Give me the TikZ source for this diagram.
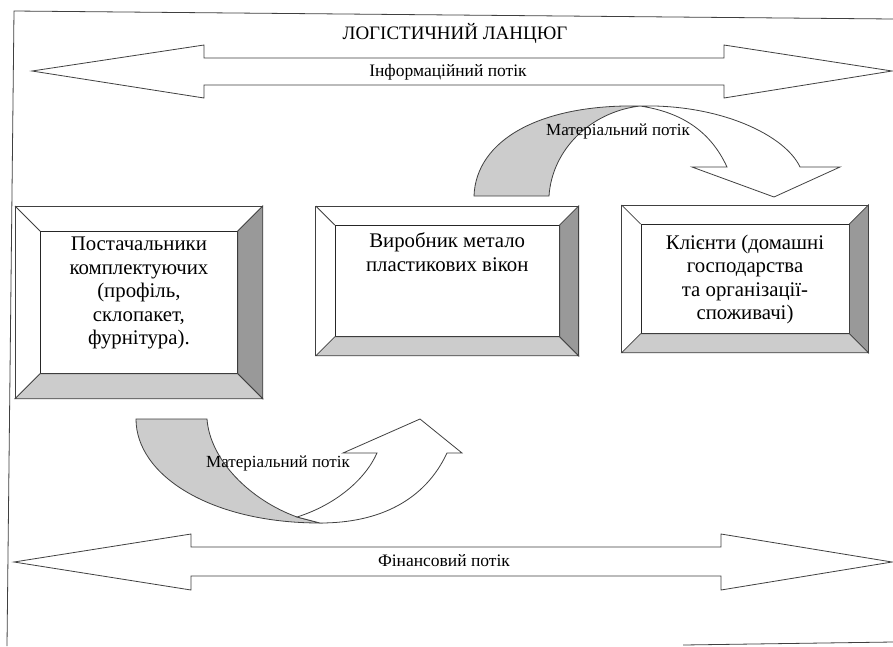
\documentclass[tikz,border=0pt]{standalone}
\usepackage{fontspec}
\setmainfont{Liberation Serif}
\usetikzlibrary{calc,positioning}

\definecolor{sidedark}{gray}{0.6}
\definecolor{sidelight}{gray}{0.8}

% parbox with fixed size, text pushed down from the top
\newcommand{\boxtext}[4]{\parbox[c][#2pt][t]{#1pt}{\centering\vspace*{#3pt}#4}}

% frame round an inner box: node name, depth
\newcommand{\bevel}[2]{%
  \draw[edge] ($(#1.north west)+(-#2,-#2)$) rectangle ($(#1.south east)+(#2,#2)$);
  \draw[edge, fill=sidedark] (#1.north east) -- ($(#1.north east)+(#2,-#2)$)
        -- ($(#1.south east)+(#2,#2)$) -- (#1.south east) -- cycle;
  \draw[edge, fill=sidelight] (#1.south west) -- ($(#1.south west)+(-#2,#2)$)
        -- ($(#1.south east)+(#2,#2)$) -- (#1.south east) -- cycle;
  \draw[edge] (#1.north west) -- ($(#1.north west)+(-#2,-#2)$);
}

\begin{document}
\begin{tikzpicture}[x=1pt, y=-1pt, line join=miter]

    \tikzstyle{edge}  = [draw=black!75, line width=0.8pt]
    \tikzstyle{inbox} = [rectangle, draw=black!85, line width=0.8pt, inner sep=0pt,
                         font=\fontsize{20.8}{23.5}\selectfont]
    \tikzstyle{flow}  = [edge, fill=white]
    \tikzstyle{back}  = [edge, fill=sidelight]
    \tikzstyle{lbl}   = [inner sep=0pt, font=\fontsize{17.5}{20}\selectfont]
    \tikzstyle{mlbl}  = [inner sep=0pt, font=\fontsize{17}{19}\selectfont]

    \fill[white] (0,0) rectangle (893,646);
    \useasboundingbox (0,0) rectangle (893,646);

    \draw[edge] (893,19) -- (14,11) -- (7,646);
    \draw[edge] (683,645) -- (893,642);

    \draw[flow] (32,71) -- (204,45) -- (204,58) -- (724,58) -- (724,45) -- (892,71)
        -- (724,98) -- (724,85) -- (204,85) -- (204,98) -- cycle;
    \draw[flow] (14,562) -- (191,534) -- (191,547) -- (721,547) -- (721,534) -- (892,562)
        -- (721,590) -- (721,576) -- (191,576) -- (191,590) -- cycle;

    \node (supp)   [inbox, anchor=north west] at (40,231)
        {\boxtext{197}{142}{5.5}{Постачальники\\комплектуючих\\(профіль,\\склопакет,\\фурнітура).}};
    \node (maker)  [inbox, right=97pt of supp.north east, anchor=north west, yshift=6pt]
        {\boxtext{224}{111}{7.5}{Виробник метало\\пластикових вікон}};
    \node (client) [inbox, right=81pt of maker.north east, anchor=north west, yshift=1pt]
        {\boxtext{208}{109}{10.5}{Клієнти (домашні\\господарства\\та організації-\\споживачі)}};

    \bevel{supp}{25}
    \bevel{maker}{19}
    \bevel{client}{19}

    \draw[back] (474,196) .. controls (476,140) and (540,104) .. (640,106)
        .. controls (590,112) and (552,150) .. (549,196) -- cycle;
    \draw[flow] (640,106) .. controls (720,104) and (785,135) .. (800,167)
        -- (840,167) -- (774,197) -- (692,167) -- (727,167)
        .. controls (710,130) and (680,112) .. (640,106) -- cycle;

    \draw[back] (136,419) .. controls (136,475) and (210,523) .. (320,523)
        -- (297,517) .. controls (250,500) and (210,460) .. (207,419) -- cycle;
    \draw[flow] (297,517) .. controls (335,505) and (365,480) .. (377,453)
        -- (343,453) -- (420,419) -- (462,453) -- (447,453)
        .. controls (425,500) and (380,523) .. (320,523) -- cycle;

    \node (title) [lbl, font=\fontsize{19}{22}\selectfont] at (455,33) {ЛОГІСТИЧНИЙ ЛАНЦЮГ};
    \node (info)  [lbl] at (448,72)  {Інформаційний потік};
    \node (fin)   [lbl] at (444,561) {Фінансовий потік};
    \node (mat1)  [mlbl] at (618,131) {Матеріальний потік};
    \node (mat2)  [mlbl] at (278,463) {Матеріальний потік};

\end{tikzpicture}
\end{document}
